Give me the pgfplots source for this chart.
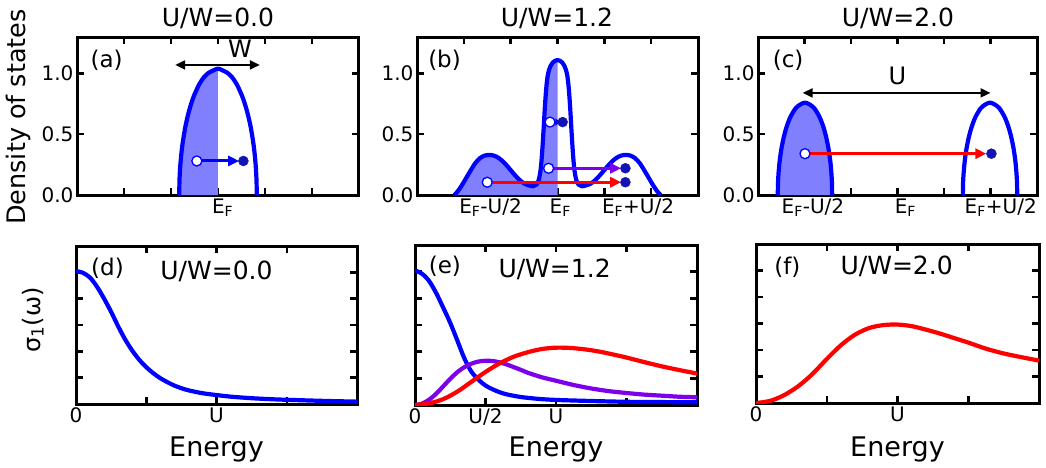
\documentclass[border=0pt]{standalone}
\usepackage{fontspec}
\setmainfont{DejaVu Sans}
\usepackage{pgfplots}
\pgfplotsset{compat=1.18}
\usetikzlibrary{arrows.meta}

\definecolor{dosblue}{RGB}{0,0,255}
\definecolor{fillblue}{RGB}{128,128,255}
\definecolor{dotblue}{RGB}{20,20,180}
\definecolor{optred}{RGB}{255,0,0}
\definecolor{optviolet}{RGB}{125,0,235}

\newcommand\fs[1]{\fontsize{#1}{#1}\selectfont}

\pgfplotsset{
  panel/.style={
    scale only axis, anchor=south west,
    axis line style={line width=3pt},
    tick style={line width=2.5pt, black},
    major tick length=7pt, tick align=inside,
    xtick pos=both, ytick pos=both,
    clip mode=individual,
    tick label style={font=\fs{20}},
  },
  dos/.style={panel, xmin=-3, xmax=3, ymin=0, ymax=1.3,
    ytick={0,0.5,1}, yticklabels={0.0,0.5,1.0},
    xtick={-2,-1,0,1,2}, xticklabels={},
    extra x tick style={major tick length=0pt},
  },
  opt/.style={panel, xmin=0, xmax=4, ymin=0, ymax=6,
    xtick={0,1,2,3,4}, ytick={1,2,3,4,5}, yticklabels={},
  },
  curve/.style={line width=4.2pt, line join=round, smooth},
  hole/.style={only marks, mark=*, mark size=5pt,
    mark options={fill=white, draw=dosblue, line width=1.3pt}},
  elec/.style={only marks, mark=*, mark size=5pt,
    mark options={fill=dotblue, draw=dotblue}},
  hop/.style={line width=3pt, -{Triangle[length=11pt,width=10pt]}},
  span/.style={black, line width=2pt,
    {Triangle[length=10pt,width=9pt]}-{Triangle[length=10pt,width=9pt]}},
}

\begin{document}
\begin{tikzpicture}
\useasboundingbox (0,0) rectangle (1046pt,467pt);

% panel titles and shared axis labels
\node[font=\fs{25}, anchor=base] at (218pt,440pt) {U/W=0.0};
\node[font=\fs{25}, anchor=base] at (557pt,440pt) {U/W=1.2};
\node[font=\fs{25}, anchor=base] at (898pt,440pt) {U/W=2.0};
\node[font=\fs{25.5}, rotate=90, anchor=base] at (25pt,350pt) {Density of states};
\node[font=\fs{24}, rotate=90, anchor=base] at (40pt,147pt) {σ\textsubscript{1}(ω)};

% (a) uncorrelated band
\begin{axis}[dos, at={(77pt,272pt)}, width=282pt, height=158pt,
  extra x ticks={0.1}, extra x tick labels={E\textsubscript{F}}]
\addplot[fill=fillblue, draw=none] coordinates {
  (-0.825,0) (-0.82,0.114) (-0.81,0.197) (-0.80,0.254) (-0.78,0.339)
  (-0.75,0.433) (-0.70,0.550) (-0.65,0.640) (-0.60,0.714) (-0.55,0.775)
  (-0.50,0.827) (-0.40,0.910) (-0.30,0.969) (-0.20,1.005) (-0.10,1.025)
  (0,1.04)} \closedcycle;
\addplot[curve, dosblue] coordinates {
  (-0.825,0) (-0.82,0.114) (-0.81,0.197) (-0.80,0.254) (-0.78,0.339)
  (-0.75,0.433) (-0.70,0.550) (-0.65,0.640) (-0.60,0.714) (-0.55,0.775)
  (-0.50,0.827) (-0.40,0.910) (-0.30,0.969) (-0.20,1.005) (-0.10,1.025)
  (0,1.04)
  (0.10,1.025) (0.20,1.005) (0.30,0.969) (0.40,0.910) (0.50,0.827)
  (0.55,0.775) (0.60,0.714) (0.65,0.640) (0.70,0.550) (0.75,0.433)
  (0.78,0.339) (0.80,0.254) (0.81,0.197) (0.82,0.114) (0.825,0)};
\addplot[span] coordinates {(-0.91,1.07) (0.89,1.07)};
\addplot[hop, dosblue] coordinates {(-0.45,0.28) (0.45,0.28)};
\addplot[hole] coordinates {(-0.45,0.28)};
\addplot[elec] coordinates {(0.54,0.28)};
\node[font=\fs{24}, anchor=base] at (axis cs:0.47,1.13) {W};
\node[font=\fs{23}, anchor=base] at (rel axis cs:0.105,0.806) {(a)};
\end{axis}

% (b) correlated metal: Hubbard bands and quasiparticle peak
\begin{axis}[dos, at={(417pt,272pt)}, width=281pt, height=158pt,
  extra x ticks={-1.43,0.06,1.72},
  extra x tick labels={E\textsubscript{F}-U/2,E\textsubscript{F},E\textsubscript{F}+U/2}]
\addplot[fill=fillblue, draw=none] coordinates {
  (-2.20,0.000) (-2.13,0.030) (-2.05,0.075) (-1.95,0.140) (-1.85,0.205)
  (-1.75,0.265) (-1.65,0.305) (-1.55,0.325) (-1.47,0.330) (-1.40,0.328)
  (-1.30,0.315) (-1.20,0.288) (-1.10,0.250) (-1.00,0.205) (-0.90,0.160)
  (-0.80,0.120) (-0.70,0.092) (-0.60,0.078) (-0.52,0.072) (-0.45,0.085)
  (-0.40,0.125) (-0.36,0.210) (-0.33,0.340) (-0.30,0.520) (-0.27,0.720)
  (-0.24,0.880) (-0.21,0.980) (-0.18,1.030) (-0.15,1.060) (-0.10,1.090)
  (-0.05,1.105) (0.00,1.110)} \closedcycle;
\addplot[curve, dosblue] coordinates {
  (-2.20,0.000) (-2.13,0.030) (-2.05,0.075) (-1.95,0.140) (-1.85,0.205)
  (-1.75,0.265) (-1.65,0.305) (-1.55,0.325) (-1.47,0.330) (-1.40,0.328)
  (-1.30,0.315) (-1.20,0.288) (-1.10,0.250) (-1.00,0.205) (-0.90,0.160)
  (-0.80,0.120) (-0.70,0.092) (-0.60,0.078) (-0.52,0.072) (-0.45,0.085)
  (-0.40,0.125) (-0.36,0.210) (-0.33,0.340) (-0.30,0.520) (-0.27,0.720)
  (-0.24,0.880) (-0.21,0.980) (-0.18,1.030) (-0.15,1.060) (-0.10,1.090)
  (-0.05,1.105) (0.00,1.110)
  (0.05,1.105) (0.10,1.090) (0.15,1.060) (0.18,1.030) (0.21,0.980)
  (0.24,0.880) (0.27,0.720) (0.30,0.520) (0.33,0.340) (0.36,0.210)
  (0.40,0.125) (0.45,0.085) (0.52,0.072) (0.60,0.078) (0.70,0.092)
  (0.80,0.120) (0.90,0.160) (1.00,0.205) (1.10,0.250) (1.20,0.288)
  (1.30,0.315) (1.40,0.328) (1.47,0.330) (1.55,0.325) (1.65,0.305)
  (1.75,0.265) (1.85,0.205) (1.95,0.140) (2.05,0.075) (2.13,0.030)
  (2.20,0.000)};
\addplot[hop, optred] coordinates {(-1.50,0.105) (1.36,0.105)};
\addplot[hop, optviolet] coordinates {(-0.19,0.22) (1.36,0.22)};
\addplot[line width=3pt, dosblue, -{Triangle[length=5pt,width=7pt]}] coordinates {(-0.16,0.60) (0.06,0.60)};
\addplot[hole] coordinates {(-1.50,0.105) (-0.19,0.22) (-0.16,0.60)};
\addplot[elec] coordinates {(1.45,0.105) (1.45,0.22) (0.11,0.60)};
\node[font=\fs{23}, anchor=base] at (rel axis cs:0.098,0.806) {(b)};
\end{axis}

% (c) Mott insulator: split Hubbard bands
\begin{axis}[dos, at={(758pt,272pt)}, width=279pt, height=158pt,
  extra x ticks={-1.82,0.17,2.22},
  extra x tick labels={E\textsubscript{F}-U/2,E\textsubscript{F},E\textsubscript{F}+U/2}]
\addplot[fill=fillblue, draw=none] coordinates {
  (-2.575,0) (-2.570,0.099) (-2.560,0.171) (-2.540,0.259) (-2.520,0.322)
  (-2.490,0.395) (-2.440,0.486) (-2.390,0.555) (-2.340,0.609) (-2.290,0.652)
  (-2.190,0.714) (-2.090,0.745) (-1.990,0.760) (-1.890,0.745) (-1.790,0.714)
  (-1.690,0.652) (-1.640,0.609) (-1.590,0.555) (-1.540,0.486) (-1.490,0.395)
  (-1.460,0.322) (-1.440,0.259) (-1.420,0.171) (-1.410,0.099) (-1.405,0)} \closedcycle;
\addplot[curve, dosblue] coordinates {
  (-2.575,0) (-2.570,0.099) (-2.560,0.171) (-2.540,0.259) (-2.520,0.322)
  (-2.490,0.395) (-2.440,0.486) (-2.390,0.555) (-2.340,0.609) (-2.290,0.652)
  (-2.190,0.714) (-2.090,0.745) (-1.990,0.760) (-1.890,0.745) (-1.790,0.714)
  (-1.690,0.652) (-1.640,0.609) (-1.590,0.555) (-1.540,0.486) (-1.490,0.395)
  (-1.460,0.322) (-1.440,0.259) (-1.420,0.171) (-1.410,0.099) (-1.405,0)};
\addplot[curve, dosblue] coordinates {
  (1.405,0) (1.410,0.099) (1.420,0.171) (1.440,0.259) (1.460,0.322)
  (1.490,0.395) (1.540,0.486) (1.590,0.555) (1.640,0.609) (1.690,0.652)
  (1.790,0.714) (1.890,0.745) (1.990,0.760) (2.090,0.745) (2.190,0.714)
  (2.290,0.652) (2.340,0.609) (2.390,0.555) (2.440,0.486) (2.490,0.395)
  (2.520,0.322) (2.540,0.259) (2.560,0.171) (2.570,0.099) (2.575,0)};
\addplot[span] coordinates {(-2.04,0.84) (2.00,0.84)};
\addplot[hop, optred] coordinates {(-1.99,0.34) (1.91,0.34)};
\addplot[hole] coordinates {(-1.99,0.34)};
\addplot[elec] coordinates {(2.02,0.34)};
\node[font=\fs{24}, anchor=base] at (axis cs:0,0.91) {U};
\node[font=\fs{23}, anchor=base] at (rel axis cs:0.108,0.806) {(c)};
\end{axis}

% (d) Drude response, U/W=0.0
\begin{axis}[opt, at={(76pt,63pt)}, width=281pt, height=158pt,
  xticklabels={0,,U,,}]
\addplot[curve, dosblue] coordinates {
  (0,5.05) (0.1,4.98) (0.2,4.80) (0.3,4.45) (0.4,4.00) (0.5,3.50)
  (0.6,2.95) (0.7,2.45) (0.8,2.03) (0.9,1.68) (1.0,1.40) (1.1,1.17)
  (1.2,0.98) (1.3,0.83) (1.4,0.70) (1.5,0.60) (1.6,0.52) (1.8,0.41)
  (2.0,0.34) (2.2,0.28) (2.5,0.22) (2.8,0.18) (3.0,0.16) (3.5,0.12)
  (4.0,0.09)};
\node[font=\fs{23}, anchor=base] at (rel axis cs:0.112,0.816) {(d)};
\node[font=\fs{25}, anchor=base] at (rel axis cs:0.5,0.79) {U/W=0.0};
\node[font=\fs{27}, anchor=base] at (rel axis cs:0.5,0) [yshift=-52pt] {Energy};
\end{axis}

% (e) correlated metal, U/W=1.2
\begin{axis}[opt, at={(415pt,62pt)}, width=282pt, height=160pt,
  xticklabels={0,U/2,U,,}]
\addplot[curve, dosblue] coordinates {
  (0,5.05) (0.1,4.92) (0.2,4.65) (0.3,4.20) (0.4,3.65) (0.5,3.08)
  (0.6,2.42) (0.7,1.75) (0.8,1.25) (0.9,0.95) (1.0,0.73) (1.1,0.59)
  (1.2,0.48) (1.3,0.40) (1.5,0.30) (1.75,0.23) (2.0,0.19) (2.5,0.15)
  (3.0,0.12) (3.5,0.11) (4.0,0.10)};
\addplot[curve, optviolet] coordinates {
  (0,0) (0.1,0.05) (0.2,0.20) (0.3,0.42) (0.4,0.70) (0.5,0.98)
  (0.6,1.23) (0.7,1.42) (0.8,1.55) (0.9,1.63) (1.0,1.66) (1.1,1.65)
  (1.2,1.60) (1.3,1.52) (1.4,1.42) (1.5,1.32) (1.6,1.21) (1.8,1.04)
  (2.0,0.91) (2.25,0.75) (2.5,0.62) (2.75,0.52) (3.0,0.45) (3.25,0.39)
  (3.5,0.35) (3.75,0.31) (4.0,0.29)};
\addplot[curve, optred] coordinates {
  (0,0) (0.2,0.06) (0.4,0.22) (0.6,0.50) (0.8,0.87) (1.0,1.24)
  (1.2,1.56) (1.4,1.81) (1.6,1.98) (1.8,2.10) (2.0,2.15) (2.2,2.14)
  (2.4,2.09) (2.6,2.01) (2.8,1.90) (3.0,1.78) (3.25,1.61) (3.5,1.45)
  (3.75,1.31) (4.0,1.18)};
\node[font=\fs{23}, anchor=base] at (rel axis cs:0.106,0.825) {(e)};
\node[font=\fs{25}, anchor=base] at (rel axis cs:0.495,0.80) {U/W=1.2};
\node[font=\fs{27}, anchor=base] at (rel axis cs:0.5,0) [yshift=-51pt] {Energy};
\end{axis}

% (f) Mott insulator, U/W=2.0
\begin{axis}[opt, at={(756pt,64pt)}, width=283pt, height=159pt,
  xticklabels={0,,U,,}]
\addplot[curve, optred] coordinates {
  (0,0) (0.2,0.08) (0.4,0.30) (0.6,0.64) (0.8,1.10) (1.0,1.66)
  (1.2,2.18) (1.4,2.58) (1.6,2.83) (1.8,2.94) (2.0,2.96) (2.2,2.90)
  (2.4,2.77) (2.6,2.62) (2.8,2.45) (3.0,2.28) (3.25,2.05) (3.5,1.87)
  (3.75,1.73) (4.0,1.60)};
\node[font=\fs{23}, anchor=base] at (rel axis cs:0.111,0.81) {(f)};
\node[font=\fs{25}, anchor=base] at (rel axis cs:0.497,0.81) {U/W=2.0};
\node[font=\fs{27}, anchor=base] at (rel axis cs:0.5,0) [yshift=-53pt] {Energy};
\end{axis}
\end{tikzpicture}
\end{document}
